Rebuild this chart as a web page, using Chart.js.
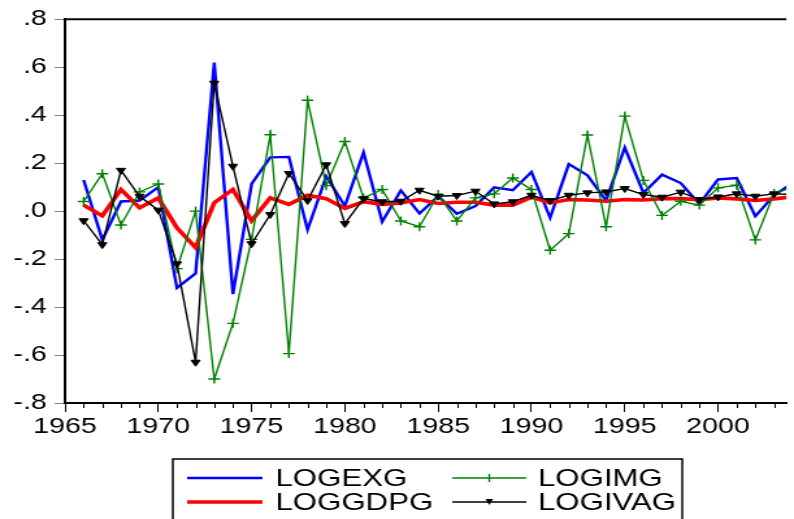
<!DOCTYPE html>
<html>
<head>
<meta charset="utf-8">
<script src="https://cdn.jsdelivr.net/npm/chart.js@4.4.1/dist/chart.umd.min.js"></script>
<style>
  html, body { margin: 0; padding: 0; background: #fff; overflow: hidden; }
  #wrap { width: 611px; height: 519px; transform: scaleX(1.2995); transform-origin: 0 0; }
</style>
</head>
<body>
<div id="wrap"><canvas id="chart" width="611" height="519"></canvas></div>
<script>
/*globals Chart*/
(function () {
  'use strict';

  // one value per year, 1966..2004
  var years = [
    1966, 1967, 1968, 1969, 1970, 1971, 1972, 1973, 1974, 1975,
    1976, 1977, 1978, 1979, 1980, 1981, 1982, 1983, 1984, 1985,
    1986, 1987, 1988, 1989, 1990, 1991, 1992, 1993, 1994, 1995,
    1996, 1997, 1998, 1999, 2000, 2001, 2002, 2003, 2004
  ];
  var logexg = [
    0.130, -0.120, 0.040, 0.044, 0.100, -0.320, -0.260, 0.619, -0.346, 0.113,
    0.224, 0.226, -0.078, 0.145, 0.021, 0.245, -0.044, 0.086, -0.010, 0.062,
    -0.011, 0.021, 0.099, 0.087, 0.163, -0.028, 0.196, 0.149, 0.044, 0.265,
    0.076, 0.152, 0.117, 0.030, 0.132, 0.138, -0.021, 0.066, 0.117
  ];
  var loggdpg = [
    0.025, -0.020, 0.090, 0.014, 0.055, -0.070, -0.152, 0.035, 0.090, -0.040,
    0.055, 0.028, 0.066, 0.052, 0.011, 0.039, 0.028, 0.034, 0.048, 0.032,
    0.037, 0.037, 0.025, 0.025, 0.058, 0.034, 0.048, 0.046, 0.041, 0.048,
    0.046, 0.052, 0.052, 0.048, 0.055, 0.051, 0.044, 0.051, 0.060
  ];
  var logimg = [
    0.040, 0.156, -0.058, 0.080, 0.113, -0.240, 0.000, -0.700, -0.468, -0.118,
    0.318, -0.594, 0.462, 0.106, 0.290, 0.055, 0.090, -0.041, -0.065, 0.069,
    -0.041, 0.055, 0.072, 0.138, 0.090, -0.163, -0.094, 0.317, -0.065, 0.396,
    0.128, -0.018, 0.041, 0.025, 0.097, 0.108, -0.120, 0.073, 0.100
  ];
  var logivag = [
    -0.040, -0.140, 0.170, 0.062, 0.004, -0.220, -0.630, 0.533, 0.187, -0.136,
    -0.014, 0.157, 0.044, 0.193, -0.052, 0.052, 0.039, 0.041, 0.087, 0.062,
    0.065, 0.083, 0.030, 0.039, 0.066, 0.044, 0.066, 0.076, 0.080, 0.094,
    0.069, 0.058, 0.079, 0.048, 0.059, 0.072, 0.062, 0.072, 0.070
  ];

  var font = '"Liberation Sans", Arial, sans-serif';

  var pairs = function (vals) {
    return years.map(function (yr, i) { return {x: yr, y: vals[i]}; });
  };

  // frame top line, minor year ticks, boxed two-column legend
  var extras = {
    id: 'extras',
    afterDraw: function (chart) {
      var ctx = chart.ctx, area = chart.chartArea, xs = chart.scales.x, yr, px;
      ctx.save();
      ctx.strokeStyle = '#000';
      ctx.lineWidth = 2;
      ctx.beginPath();
      ctx.moveTo(area.left - 1, area.top);
      ctx.lineTo(area.right, area.top);
      ctx.stroke();

      ctx.lineWidth = 1;
      for (yr = 1965; yr <= 2003; yr += 1) {
        if (yr % 5 !== 0) {
          px = Math.round(xs.getPixelForValue(yr)) + 0.5;
          ctx.beginPath();
          ctx.moveTo(px, area.bottom);
          ctx.lineTo(px, area.bottom + 5);
          ctx.stroke();
        }
      }

      ctx.lineWidth = 1.5;
      ctx.strokeRect(133, 459, 392, 80);
      ctx.font = '24px ' + font;
      ctx.textBaseline = 'middle';
      chart.data.datasets.forEach(function (ds, i) {
        var col = Math.floor(i / 2), row = i % 2;
        var x0 = col ? 348 : 144, x1 = col ? 405 : 202;
        var y = row ? 502 : 478, mx = (x0 + x1) / 2;
        ctx.strokeStyle = ds.borderColor;
        ctx.fillStyle = ds.borderColor;
        ctx.lineWidth = ds.borderWidth;
        ctx.beginPath();
        ctx.moveTo(x0, y);
        ctx.lineTo(x1, y);
        ctx.stroke();
        if (ds.pointStyle === 'cross') {
          ctx.beginPath();
          ctx.moveTo(mx, y - 4);
          ctx.lineTo(mx, y + 4);
          ctx.stroke();
        } else if (ds.pointStyle === 'triangle') {
          ctx.beginPath();
          ctx.moveTo(mx - 3, y - 3);
          ctx.lineTo(mx + 3, y - 3);
          ctx.lineTo(mx, y + 3);
          ctx.closePath();
          ctx.fill();
        }
        ctx.fillStyle = '#000';
        ctx.fillText(ds.label, col ? 414 : 212, y + 1);
      });
      ctx.restore();
    }
  };

  new Chart(document.getElementById('chart'), {
    type: 'line',
    data: {
      datasets: [
        {label: 'LOGEXG', data: pairs(logexg), borderColor: '#0000ff', borderWidth: 2.4,
          pointRadius: 0, order: 4},
        {label: 'LOGGDPG', data: pairs(loggdpg), borderColor: '#ff0000', borderWidth: 3.6,
          pointRadius: 0, order: 3},
        {label: 'LOGIMG', data: pairs(logimg), borderColor: '#008000', borderWidth: 1.4,
          pointStyle: 'cross', pointRadius: 4.5, pointBorderWidth: 1.4,
          pointBorderColor: '#008000', order: 2},
        {label: 'LOGIVAG', data: pairs(logivag), borderColor: '#000000', borderWidth: 1.4,
          pointStyle: 'triangle', pointRotation: 180, pointRadius: 4,
          pointBackgroundColor: '#000', pointBorderColor: '#000', pointBorderWidth: 1, order: 1}
      ]
    },
    options: {
      responsive: false,
      animation: false,
      events: [],
      layout: {padding: {top: 16, right: 0, bottom: 76, left: 0}},
      plugins: {legend: {display: false}, tooltip: {enabled: false}},
      elements: {line: {tension: 0}},
      scales: {
        x: {
          type: 'linear',
          min: 1965,
          max: 2003.66,
          afterBuildTicks: function (scale) {
            scale.ticks = scale.ticks.filter(function (t) { return t.value === Math.round(t.value); });
          },
          afterFit: function (scale) { scale.height = 40; },
          border: {color: '#000', width: 2},
          grid: {
            drawOnChartArea: false,
            tickLength: 9,
            tickColor: function (c) { return c.tick && c.tick.value % 5 === 0 ? '#000' : 'rgba(0,0,0,0)'; }
          },
          ticks: {
            stepSize: 1,
            autoSkip: false,
            maxRotation: 0,
            padding: 2,
            color: '#000',
            font: {family: font, size: 22},
            callback: function (v) { return v % 5 === 0 ? String(v) : ''; }
          }
        },
        y: {
          min: -0.8,
          max: 0.8,
          afterFit: function (scale) { scale.width = 50; },
          border: {color: '#000', width: 2},
          grid: {drawOnChartArea: false, tickLength: 8, tickColor: '#808080'},
          ticks: {
            stepSize: 0.2,
            padding: 6,
            color: '#000',
            font: {family: font, size: 22},
            callback: function (v) {
              if (Math.abs(v) < 1e-9) {
                return '.0';
              }
              return v.toFixed(1).replace('0.', '.');
            }
          }
        }
      }
    },
    plugins: [extras]
  });
}());
</script>
</body>
</html>
